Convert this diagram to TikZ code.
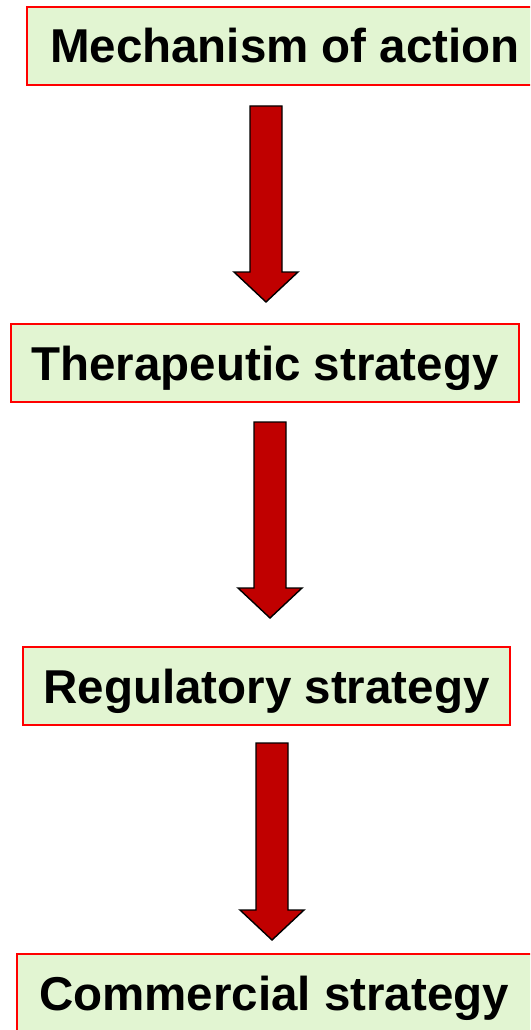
\documentclass[tikz,border=0pt]{standalone}
\usepackage{fontspec}
\setmainfont{Liberation Sans}
\usetikzlibrary{calc}
\definecolor{boxfill}{HTML}{E2F5D2}
\definecolor{boxline}{HTML}{FF0000}
\definecolor{arrowfill}{HTML}{C00000}
\tikzset{
  stagebox/.style={draw=boxline, line width=1.6pt, fill=boxfill, inner sep=0pt,
    minimum height=78pt, text height=34pt, text depth=0pt,
    font=\fontsize{47.5}{52}\selectfont\bfseries},
  blockarrow/.style={draw=black, line width=1.4pt, fill=arrowfill, line join=miter}
}
\newcommand{\myblockarrow}[2]{%
  \draw[blockarrow] let \p1=(#1), \p2=(#2) in
    (\x1-16pt,\y1) -- (\x1-16pt,\y2+30pt) -- (\x1-32pt,\y2+30pt) -- (\x2,\y2)
    -- (\x1+32pt,\y2+30pt) -- (\x1+16pt,\y2+30pt) -- (\x1+16pt,\y1) -- cycle;}
\begin{document}
\begin{tikzpicture}[x=1pt,y=-1pt]
\useasboundingbox (0,0) rectangle (530,1030);
\clip (0,0) rectangle (530,1030);
\node[stagebox, minimum width=600pt] (moa) at (327,46) {\hspace*{-84pt}Mechanism of action};
\node[stagebox, minimum width=508pt] (ther) at (265,363) {Therapeutic strategy};
\node[stagebox, minimum width=487pt] (reg) at (266.5,686) {Regulatory strategy};
\node[stagebox, minimum width=600pt] (comm) at (317,993) {\hspace*{-86pt}Commercial strategy};
\coordinate (a1s) at (266,106); \coordinate (a1e) at (266,302);
\coordinate (a2s) at (270,422); \coordinate (a2e) at (270,618);
\coordinate (a3s) at (272,743); \coordinate (a3e) at (272,940);
\myblockarrow{a1s}{a1e}
\myblockarrow{a2s}{a2e}
\myblockarrow{a3s}{a3e}
\end{tikzpicture}
\end{document}
